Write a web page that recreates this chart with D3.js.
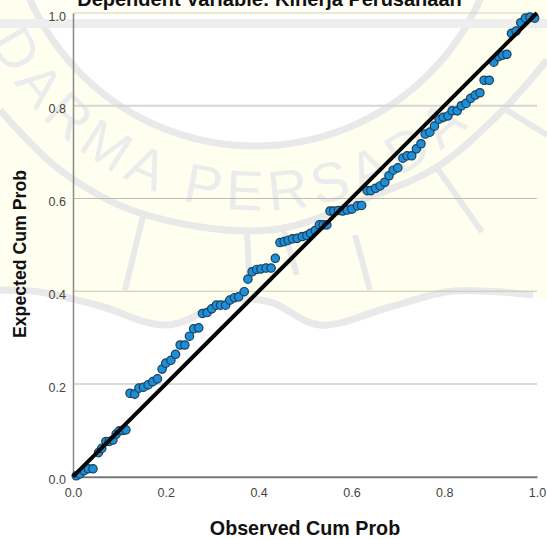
<!DOCTYPE html>
<html><head><meta charset="utf-8">
<script src="https://cdn.jsdelivr.net/npm/d3@7"></script>
<style>html,body{margin:0;padding:0;background:#fff}svg{display:block}text{font-family:"Liberation Sans",Arial,sans-serif}</style>
</head><body><svg id="c" width="547" height="540"></svg>
<script>
const titleText = "Dependent Variable: Kinerja Perusahaan";
const xAxisLabel = "Observed Cum Prob";
const yAxisLabel = "Expected Cum Prob";
const tickValues = [0, 0.2, 0.4, 0.6, 0.8, 1];
const observed = [.007,.015,.024,.033,.043,.055,.062,.071,.078,.086,.093,.100,.107,.114,
.123,.133,.142,.152,.162,.172,.182,.192,.200,.211,.221,.231,.241,.251,.260,.271,.279,.289,.299,.309,.318,.329,.338,.348,.357,.369,.377,.386,.396,.405,.416,.427,.436,
.446,.455,.464,.473,.483,.494,.504,.512,.522,.531,.539,.547,.554,.562,.572,.581,.591,.601,.613,.622,
.634,.642,.652,.662,.672,.681,.690,.700,.711,.720,.730,.740,.750,.759,.769,.779,.789,.798,.808,.817,.828,.837,.847,.857,.867,.877,.886,.897,.907,.917,.926,.935,.945,.955,.965,.975,.985,.995];
const expected = [.002,.006,.013,.017,.017,.052,.061,.076,.076,.079,.092,.099,.100,.101,
.180,.178,.191,.193,.198,.205,.211,.232,.245,.251,.264,.284,.284,.303,.319,.321,.352,.354,.362,.370,.370,.370,.381,.386,.388,.399,.426,.442,.447,.448,.450,.450,.471,
.505,.507,.510,.513,.514,.518,.520,.525,.531,.543,.543,.543,.573,.573,.574,.573,.575,.577,.584,.585,
.617,.617,.622,.627,.635,.649,.661,.666,.687,.692,.692,.707,.718,.739,.743,.756,.771,.775,.778,.789,.789,.800,.805,.816,.823,.828,.855,.855,.894,.906,.909,.911,.956,.961,.979,.989,.991,.989];
const refLine = [0, 1];

const svg = d3.select("#c");
const x = d3.scaleLinear().domain([0,1]).range([73,537]);
const y = d3.scaleLinear().domain([0,1]).range([476.7,13]);

// faint background watermark of the scanned page
const wm = svg.append("g");
const curve = d3.line().curve(d3.curveCatmullRom.alpha(0.5));
const yellow = [[0,0],[547,0],[547,300],[533,296],[453,291],[390,307],[320,325],[270,302],[233,300],[167,325],[100,306],[40,292],[0,290]];
wm.append("path").attr("d", d3.line()(yellow)+"Z").attr("fill","#fffff0");
wm.append("circle").attr("cx",255).attr("cy",-100).attr("r",246).attr("fill","#fff");
wm.append("rect").attr("x",0).attr("y",0).attr("width",547).attr("height",18).attr("fill","#fffff0").attr("opacity",.6);
const band = "#e9e9e9";
wm.append("circle").attr("cx",255).attr("cy",-100).attr("r",246).attr("fill","none").attr("stroke",band).attr("stroke-width",7);
wm.append("path").attr("d",curve([[0,110],[60,170],[140,213],[270,230],[370,197],[437,167],[503,110],[547,60]])).attr("fill","none").attr("stroke",band).attr("stroke-width",7);
wm.append("path").attr("d",curve([[0,290],[40,292],[100,306],[167,325],[233,300],[270,302],[320,325],[390,307],[453,291],[533,295]])).attr("fill","none").attr("stroke",band).attr("stroke-width",7);
wm.append("rect").attr("x",0).attr("y",19).attr("width",547).attr("height",9).attr("fill","#eeeeee");
wm.append("path").attr("d","M143,216L125,290M247,232L249,275M437,168L482,232M503,108L547,135M355,235L370,290M283,228L297,275").attr("stroke",band).attr("stroke-width",6).attr("fill","none");
wm.append("path").attr("id","wmArc").attr("d","M-10,41A300,300 0 0 0 555,-35").attr("fill","none");
wm.append("text").attr("font-size",56).attr("fill","#ececec").attr("letter-spacing",7)
  .append("textPath").attr("href","#wmArc").text("DARMA PERSADA");

// grid
const gridColors = ["none","#dcdcdc","#c6c6b0","#bdbdad","#d6d6d6","#d2d2c0"];
const gridWidths = [0,2,1,1,2,1];
svg.append("g").selectAll("line").data(tickValues).join("line")
  .attr("x1",x(0)).attr("x2",x(1)).attr("y1",d=>y(d)).attr("y2",d=>y(d))
  .attr("stroke",(d,i)=>gridColors[i]).attr("stroke-width",(d,i)=>gridWidths[i]);

// axes
const xa = svg.append("g").attr("transform",`translate(0,${y(0)})`)
  .call(d3.axisBottom(x).tickValues(tickValues).tickFormat(d3.format(".1f")).tickSize(0).tickPadding(11));
const ya = svg.append("g").attr("transform",`translate(${x(0)},0)`)
  .call(d3.axisLeft(y).tickValues(tickValues).tickFormat(d3.format(".1f")).tickSize(0).tickPadding(7));
xa.select(".domain").attr("stroke","#777").attr("stroke-width",2);
ya.select(".domain").attr("stroke","#888").attr("stroke-width",1.5);
[xa,ya].forEach(a=>a.selectAll("text").attr("font-size",12.5).attr("fill","#444").attr("font-family",'"Liberation Sans",Arial,sans-serif'));
ya.selectAll("text").attr("dy","0.58em");

// points
svg.append("g").selectAll("circle").data(observed).join("circle")
  .attr("cx",d=>x(d)).attr("cy",(d,i)=>y(expected[i])).attr("r",4.2)
  .attr("fill","#1b8fdc").attr("stroke","#1d3f55").attr("stroke-width",1.2);

// reference line
svg.append("line").attr("x1",x(refLine[0])).attr("y1",y(refLine[0])).attr("x2",x(refLine[1])).attr("y2",y(refLine[1]))
  .attr("stroke","#050505").attr("stroke-width",4);

// text
svg.append("text").attr("x",269.5).attr("y",6).attr("text-anchor","middle").attr("font-size",20).attr("font-weight","bold").attr("fill","#111").text(titleText);
svg.append("text").attr("x",305).attr("y",535).attr("text-anchor","middle").attr("font-size",19.7).attr("font-weight","bold").attr("fill","#111").text(xAxisLabel);
svg.append("text").attr("transform","translate(26,254) rotate(-90)").attr("text-anchor","middle").attr("font-size",19).attr("font-weight","bold").attr("fill","#111").attr("textLength",168).attr("lengthAdjust","spacingAndGlyphs").text(yAxisLabel);
</script></body></html>
